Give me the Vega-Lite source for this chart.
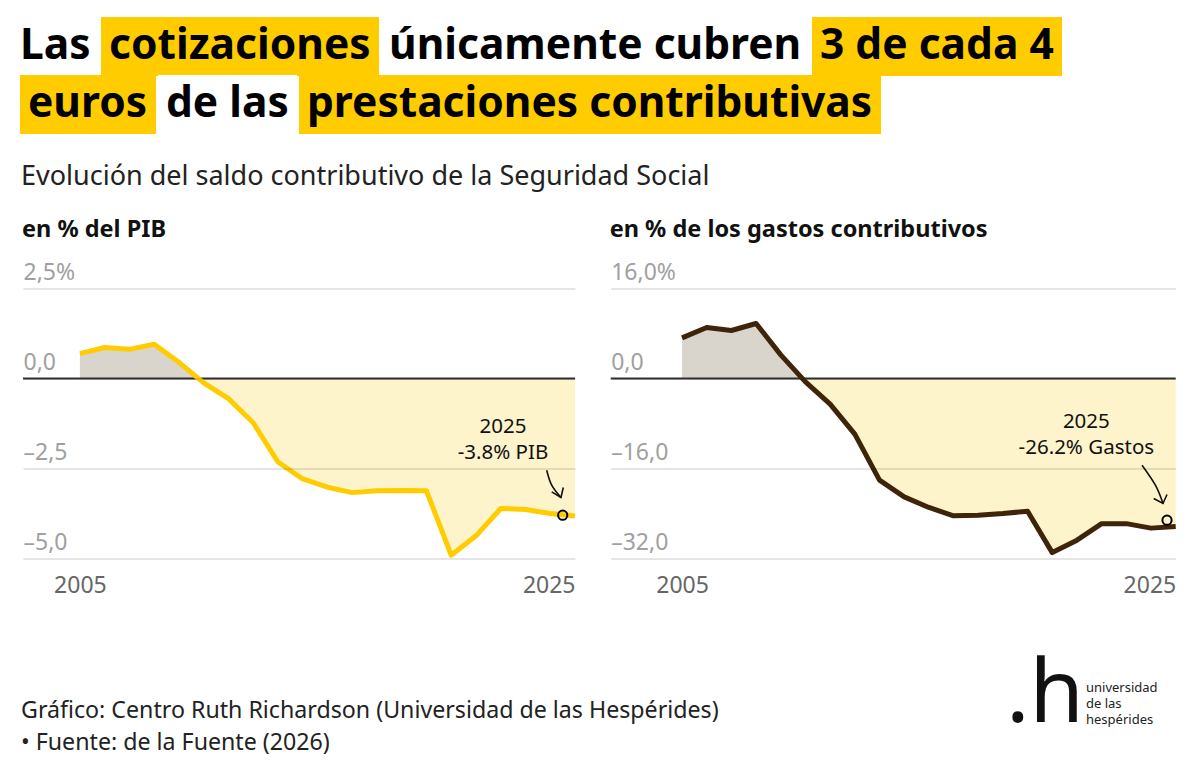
{
  "$schema": "https://vega.github.io/schema/vega-lite/v6.json",
  "background": "white",
  "padding": {"left": 18, "top": 17, "right": 10, "bottom": 5},
  "config": {
    "view": {"stroke": null},
    "font": "Noto Sans",
    "legend": {"layout": {"top": {"anchor": "start", "direction": "horizontal", "margin": 2, "offset": 0}}}
  },
  "datasets": {
    "series": [
      {"year": 2005, "pib": 0.69, "gastos": 7.22},
      {"year": 2006, "pib": 0.86, "gastos": 9.07},
      {"year": 2007, "pib": 0.81, "gastos": 8.53},
      {"year": 2008, "pib": 0.95, "gastos": 9.78},
      {"year": 2009, "pib": 0.45, "gastos": 4.2},
      {"year": 2010, "pib": -0.12, "gastos": -0.59},
      {"year": 2011, "pib": -0.56, "gastos": -4.56},
      {"year": 2012, "pib": -1.23, "gastos": -9.9},
      {"year": 2013, "pib": -2.32, "gastos": -18.07},
      {"year": 2014, "pib": -2.79, "gastos": -21.04},
      {"year": 2015, "pib": -3.02, "gastos": -22.93},
      {"year": 2016, "pib": -3.17, "gastos": -24.41},
      {"year": 2017, "pib": -3.12, "gastos": -24.3},
      {"year": 2018, "pib": -3.11, "gastos": -24.0},
      {"year": 2019, "pib": -3.12, "gastos": -23.6},
      {"year": 2020, "pib": -4.91, "gastos": -30.95},
      {"year": 2021, "pib": -4.37, "gastos": -28.74},
      {"year": 2022, "pib": -3.61, "gastos": -25.8},
      {"year": 2023, "pib": -3.64, "gastos": -25.8},
      {"year": 2024, "pib": -3.75, "gastos": -26.6},
      {"year": 2025, "pib": -3.82, "gastos": -26.3}
    ],
    "arrowPib": [
      {"part": "shaft", "i": 0, "year": 2023.856, "v": -2.547},
      {"part": "shaft", "i": 1, "year": 2024.059, "v": -2.964},
      {"part": "shaft", "i": 2, "year": 2024.434, "v": -3.306},
      {"part": "head", "i": 0, "year": 2024.059, "v": -3.15},
      {"part": "head", "i": 1, "year": 2024.434, "v": -3.306},
      {"part": "head", "i": 2, "year": 2024.527, "v": -3.028}
    ],
    "arrowGastos": [
      {"part": "shaft", "i": 0, "year": 2023.636, "v": -15.41},
      {"part": "shaft", "i": 1, "year": 2024.178, "v": -18.97},
      {"part": "shaft", "i": 2, "year": 2024.486, "v": -22.22},
      {"part": "head", "i": 0, "year": 2024.109, "v": -21.33},
      {"part": "head", "i": 1, "year": 2024.486, "v": -22.22},
      {"part": "head", "i": 2, "year": 2024.648, "v": -20.62}
    ]
  },
  "spacing": 52,
  "vconcat": [
    {
      "spacing": 27.5,
      "vconcat": [
        {
          "spacing": 25,
          "vconcat": [
            {
              "spacing": -5,
              "vconcat": [
                {
                  "width": 2,
                  "height": 2,
                  "layer": [
                    {"data": {"values": [{"seg": "Las"}]}, "mark": {"type": "point", "opacity": 0}, "encoding": {"color": {"field": "seg", "type": "nominal", "scale": {"range": ["#ffffff"]}, "legend": {"orient": "top", "title": null, "fillColor": "#ffffff", "padding": 8, "offset": 0, "symbolSize": 0, "symbolStrokeWidth": 0, "symbolOpacity": 0, "labelOffset": -50.5, "labelFontSize": 42.5, "labelFontWeight": "bold", "labelColor": "#000000", "labelLimit": 0, "cornerRadius": 0}}}},
                    {"data": {"values": [{"seg": "cotizaciones"}]}, "mark": {"type": "point", "opacity": 0}, "encoding": {"color": {"field": "seg", "type": "nominal", "scale": {"range": ["#ffcc00"]}, "legend": {"orient": "top", "title": null, "fillColor": "#ffcc00", "padding": 8, "offset": 0, "symbolSize": 0, "symbolStrokeWidth": 0, "symbolOpacity": 0, "labelOffset": -42.5, "labelFontSize": 42.5, "labelFontWeight": "bold", "labelColor": "#000000", "labelLimit": 0, "cornerRadius": 0}}}},
                    {"data": {"values": [{"seg": "únicamente cubren"}]}, "mark": {"type": "point", "opacity": 0}, "encoding": {"color": {"field": "seg", "type": "nominal", "scale": {"range": ["#ffffff"]}, "legend": {"orient": "top", "title": null, "fillColor": "#ffffff", "padding": 8, "offset": 0, "symbolSize": 0, "symbolStrokeWidth": 0, "symbolOpacity": 0, "labelOffset": -42.5, "labelFontSize": 42.5, "labelFontWeight": "bold", "labelColor": "#000000", "labelLimit": 0, "cornerRadius": 0}}}},
                    {"data": {"values": [{"seg": "3 de cada 4"}]}, "mark": {"type": "point", "opacity": 0}, "encoding": {"color": {"field": "seg", "type": "nominal", "scale": {"range": ["#ffcc00"]}, "legend": {"orient": "top", "title": null, "fillColor": "#ffcc00", "padding": 8, "offset": 0, "symbolSize": 0, "symbolStrokeWidth": 0, "symbolOpacity": 0, "labelOffset": -42.5, "labelFontSize": 42.5, "labelFontWeight": "bold", "labelColor": "#000000", "labelLimit": 0, "cornerRadius": 0}}}}
                  ],
                  "resolve": {"scale": {"color": "independent"}, "legend": {"color": "independent"}}
                },
                {
                  "width": 2,
                  "height": 2,
                  "layer": [
                    {"data": {"values": [{"seg": "euros"}]}, "mark": {"type": "point", "opacity": 0}, "encoding": {"color": {"field": "seg", "type": "nominal", "scale": {"range": ["#ffcc00"]}, "legend": {"orient": "top", "title": null, "fillColor": "#ffcc00", "padding": 8, "offset": 0, "symbolSize": 0, "symbolStrokeWidth": 0, "symbolOpacity": 0, "labelOffset": -42.5, "labelFontSize": 42.5, "labelFontWeight": "bold", "labelColor": "#000000", "labelLimit": 0, "cornerRadius": 0}}}},
                    {"data": {"values": [{"seg": "de las"}]}, "mark": {"type": "point", "opacity": 0}, "encoding": {"color": {"field": "seg", "type": "nominal", "scale": {"range": ["#ffffff"]}, "legend": {"orient": "top", "title": null, "fillColor": "#ffffff", "padding": 8, "offset": 0, "symbolSize": 0, "symbolStrokeWidth": 0, "symbolOpacity": 0, "labelOffset": -42.5, "labelFontSize": 42.5, "labelFontWeight": "bold", "labelColor": "#000000", "labelLimit": 0, "cornerRadius": 0}}}},
                    {"data": {"values": [{"seg": "prestaciones contributivas"}]}, "mark": {"type": "point", "opacity": 0}, "encoding": {"color": {"field": "seg", "type": "nominal", "scale": {"range": ["#ffcc00"]}, "legend": {"orient": "top", "title": null, "fillColor": "#ffcc00", "padding": 8, "offset": 0, "symbolSize": 0, "symbolStrokeWidth": 0, "symbolOpacity": 0, "labelOffset": -42.5, "labelFontSize": 42.5, "labelFontWeight": "bold", "labelColor": "#000000", "labelLimit": 0, "cornerRadius": 0}}}}
                  ],
                  "resolve": {"scale": {"color": "independent"}, "legend": {"color": "independent"}}
                }
              ]
            },
            {
              "width": 2,
              "height": 2,
              "data": {"values": [{}]},
              "mark": {"type": "text", "text": "Evolución del saldo contributivo de la Seguridad Social", "align": "left", "baseline": "top", "fontSize": 27, "fill": "#222222"},
              "encoding": {}
            }
          ]
        },
        {
          "spacing": 1,
          "hconcat": [
            {
              "width": 1,
              "height": 1,
              "data": {"values": [{}]},
              "mark": {"type": "text", "text": ""},
              "encoding": {}
            },
            {
              "spacing": 31.7,
              "hconcat": [
                {
                  "width": 552,
                  "height": 270,
                  "title": {"text": "en % del PIB", "anchor": "start", "baseline": "alphabetic", "offset": 1, "fontSize": 23.5, "fontWeight": "bold", "color": "#111111"},
                  "layer": [
                    {
                      "data": {"name": "series"},
                      "mark": {"type": "area", "fill": {"gradient": "linear", "x1": 0, "y1": 0, "x2": 0, "y2": 1, "stops": [{"offset": 0, "color": "#d9d4cc"}, {"offset": 0.16212, "color": "#d9d4cc"}, {"offset": 0.16212, "color": "#fef4cb"}, {"offset": 1, "color": "#fef4cb"}]}},
                      "encoding": {
                        "x": {"field": "year", "type": "quantitative", "scale": {"domain": [2002.7, 2025], "nice": false, "zero": false}, "axis": {"values": [2005, 2025], "format": "d", "title": null, "domain": false, "ticks": false, "grid": false, "labelPadding": 15.5, "labelFontSize": 23, "labelColor": "#666666", "labelFlush": true}},
                        "y": {"field": "pib", "type": "quantitative", "scale": {"domain": [-5, 2.5], "nice": false, "zero": false}, "axis": {"values": [-5, -2.5, 0, 2.5], "labelExpr": "datum.value == 2.5 ? '2,5%' : datum.value == 0 ? '0,0' : datum.value == -2.5 ? '–2,5' : '–5,0'", "title": null, "domain": false, "ticks": false, "tickSize": 0, "labelAlign": "left", "labelPadding": 0, "labelBaseline": "alphabetic", "labelOffset": -9, "labelFontSize": 23, "labelColor": "#a0a0a0", "grid": true, "gridColor": "#000000", "gridOpacity": 0.1, "gridWidth": 2, "zindex": 1}},
                        "y2": {"datum": 0}
                      }
                    },
                    {
                      "data": {"values": [{}]},
                      "mark": {"type": "rule", "color": "#333333", "strokeWidth": 2},
                      "encoding": {"y": {"datum": 0}}
                    },
                    {
                      "data": {"name": "series"},
                      "mark": {"type": "line", "color": "#ffcc00", "strokeWidth": 5, "strokeJoin": "round"},
                      "encoding": {"x": {"field": "year", "type": "quantitative"}, "y": {"field": "pib", "type": "quantitative"}}
                    },
                    {
                      "data": {"values": [{"year": 2024.503, "v": -3.797}]},
                      "mark": {"type": "point", "shape": "circle", "size": 85, "filled": false, "stroke": "#000000", "strokeWidth": 2, "opacity": 1},
                      "encoding": {"x": {"field": "year", "type": "quantitative"}, "y": {"field": "v", "type": "quantitative"}}
                    },
                    {
                      "data": {"name": "arrowPib"},
                      "transform": [{"filter": "datum.part == 'shaft'"}],
                      "mark": {"type": "line", "color": "#111111", "strokeWidth": 1.6, "interpolate": "natural"},
                      "encoding": {"x": {"field": "year", "type": "quantitative"}, "y": {"field": "v", "type": "quantitative"}, "order": {"field": "i"}}
                    },
                    {
                      "data": {"name": "arrowPib"},
                      "transform": [{"filter": "datum.part == 'head'"}],
                      "mark": {"type": "line", "color": "#111111", "strokeWidth": 1.6},
                      "encoding": {"x": {"field": "year", "type": "quantitative"}, "y": {"field": "v", "type": "quantitative"}, "order": {"field": "i"}}
                    },
                    {
                      "data": {"values": [{}]},
                      "mark": {"type": "text", "text": ["2025", "-3.8% PIB"], "align": "center", "baseline": "alphabetic", "fontSize": 20.5, "lineHeight": 25.5, "fill": "#111111"},
                      "encoding": {"x": {"datum": 2022.09, "type": "quantitative"}, "y": {"datum": -1.52, "type": "quantitative"}}
                    }
                  ]
                },
                {
                  "width": 565,
                  "height": 270,
                  "title": {"text": "en % de los gastos contributivos", "anchor": "start", "baseline": "alphabetic", "offset": 1, "fontSize": 23.5, "fontWeight": "bold", "color": "#111111"},
                  "layer": [
                    {
                      "data": {"name": "series"},
                      "mark": {"type": "area", "fill": {"gradient": "linear", "x1": 0, "y1": 0, "x2": 0, "y2": 1, "stops": [{"offset": 0, "color": "#d9d4cc"}, {"offset": 0.24012, "color": "#d9d4cc"}, {"offset": 0.24012, "color": "#fef4cb"}, {"offset": 1, "color": "#fef4cb"}]}},
                      "encoding": {
                        "x": {"field": "year", "type": "quantitative", "scale": {"domain": [2002.11, 2025], "nice": false, "zero": false}, "axis": {"values": [2005, 2025], "format": "d", "title": null, "domain": false, "ticks": false, "grid": false, "labelPadding": 15.5, "labelFontSize": 23, "labelColor": "#666666", "labelFlush": true}},
                        "y": {"field": "gastos", "type": "quantitative", "scale": {"domain": [-32, 16], "nice": false, "zero": false}, "axis": {"values": [-32, -16, 0, 16], "labelExpr": "datum.value == 16 ? '16,0%' : datum.value == 0 ? '0,0' : datum.value == -16 ? '–16,0' : '–32,0'", "title": null, "domain": false, "ticks": false, "tickSize": 0, "labelAlign": "left", "labelPadding": 0, "labelBaseline": "alphabetic", "labelOffset": -9, "labelFontSize": 23, "labelColor": "#a0a0a0", "grid": true, "gridColor": "#000000", "gridOpacity": 0.1, "gridWidth": 2, "zindex": 1}},
                        "y2": {"datum": 0}
                      }
                    },
                    {
                      "data": {"values": [{}]},
                      "mark": {"type": "rule", "color": "#333333", "strokeWidth": 2},
                      "encoding": {"y": {"datum": 0}}
                    },
                    {
                      "data": {"name": "series"},
                      "mark": {"type": "line", "color": "#3e2408", "strokeWidth": 5, "strokeJoin": "round"},
                      "encoding": {"x": {"field": "year", "type": "quantitative"}, "y": {"field": "gastos", "type": "quantitative"}}
                    },
                    {
                      "data": {"values": [{"year": 2024.648, "v": -25.19}]},
                      "mark": {"type": "point", "shape": "circle", "size": 85, "filled": false, "stroke": "#000000", "strokeWidth": 2, "opacity": 1},
                      "encoding": {"x": {"field": "year", "type": "quantitative"}, "y": {"field": "v", "type": "quantitative"}}
                    },
                    {
                      "data": {"name": "arrowGastos"},
                      "transform": [{"filter": "datum.part == 'shaft'"}],
                      "mark": {"type": "line", "color": "#111111", "strokeWidth": 1.6, "interpolate": "natural"},
                      "encoding": {"x": {"field": "year", "type": "quantitative"}, "y": {"field": "v", "type": "quantitative"}, "order": {"field": "i"}}
                    },
                    {
                      "data": {"name": "arrowGastos"},
                      "transform": [{"filter": "datum.part == 'head'"}],
                      "mark": {"type": "line", "color": "#111111", "strokeWidth": 1.6},
                      "encoding": {"x": {"field": "year", "type": "quantitative"}, "y": {"field": "v", "type": "quantitative"}, "order": {"field": "i"}}
                    },
                    {
                      "data": {"values": [{}]},
                      "mark": {"type": "text", "text": ["2025", "-26.2% Gastos"], "align": "center", "baseline": "alphabetic", "fontSize": 20.5, "lineHeight": 25.5, "fill": "#111111"},
                      "encoding": {"x": {"datum": 2021.38, "type": "quantitative"}, "y": {"datum": -8.84, "type": "quantitative"}}
                    }
                  ]
                }
              ]
            }
          ]
        }
      ]
    },
    {
      "spacing": 287,
      "hconcat": [
        {
          "width": 2,
          "height": 102,
          "data": {"values": [{}]},
          "mark": {"type": "text", "text": ["Gráfico: Centro Ruth Richardson (Universidad de las Hespérides)", "\u2009• Fuente: de la Fuente (2026)"], "align": "left", "baseline": "top", "fontSize": 23.2, "lineHeight": 32, "fill": "#222222"},
          "encoding": {}
        },
        {
          "spacing": 0,
          "hconcat": [
            {
              "width": 2,
              "height": 6,
              "data": {"values": [{}]},
              "mark": {"type": "text", "text": ".h", "align": "right", "baseline": "top", "fontSize": 88, "fill": "#111111"},
              "encoding": {}
            },
            {
              "width": 2,
              "height": 66,
              "data": {"values": [{}]},
              "mark": {"type": "text", "text": ["universidad", "de las", "hespérides"], "align": "left", "baseline": "top", "fontSize": 13, "lineHeight": 16, "fill": "#222222"},
              "encoding": {}
            }
          ]
        }
      ]
    }
  ]
}
